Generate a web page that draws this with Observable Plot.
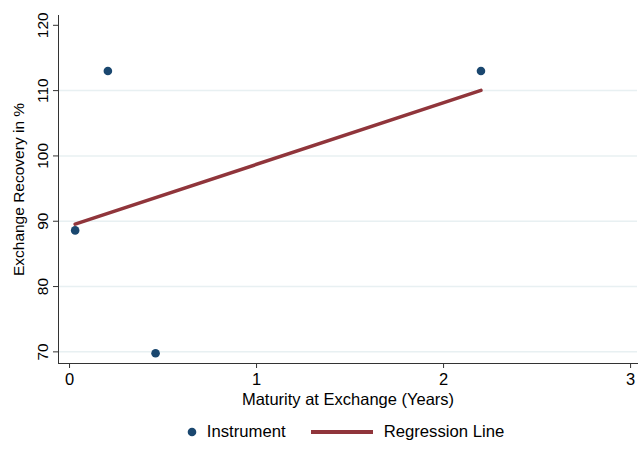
<!DOCTYPE html>
<html><head><meta charset="utf-8">
<script src="https://cdn.jsdelivr.net/npm/d3@7"></script>
<script src="https://cdn.jsdelivr.net/npm/@observablehq/plot@0.6"></script>
<style>
body{margin:0;background:#fff;font-family:"Liberation Sans",Arial,sans-serif}
#legend{display:flex;justify-content:center;align-items:center;margin-top:12px;font-size:16.7px;line-height:20px;color:#000;padding-left:48px}
.item{display:flex;align-items:center}
svg{overflow:visible}
</style>
</head><body><div id="chart"></div>
<div id="legend">
  <div class="item"><svg width="10" height="10" style="margin-right:10px"><circle cx="5" cy="5" r="4.3" fill="#1a476f"/></svg>Instrument</div>
  <div class="item" style="margin-left:25px"><svg width="62" height="6" style="margin-right:11px"><line x1="0" y1="3" x2="62" y2="3" stroke="#90353b" stroke-width="4"/></svg>Regression Line</div>
</div>
<script>
const maturity = [0.03, 0.205, 0.46, 2.2];
const recovery = [88.6, 113.0, 69.8, 113.0];
const xTicks = [0, 1, 2, 3];
const yTicks = [70, 80, 90, 100, 110, 120];
const gridTicks = [70, 80, 90, 100, 110];
const data = maturity.map((x, i) => ({x, y: recovery[i]}));

const plot = Plot.plot({
  width: 643, height: 410,
  marginTop: 15, marginLeft: 58, marginRight: 6, marginBottom: 47,
  x: {domain: [-0.059, 3.037]},
  y: {domain: [68.22, 121.5]},
  style: {fontFamily: '"Liberation Sans", Arial, sans-serif', fontSize: "16.5px", color: "#000", background: "#fff", overflow: "visible"},
  marks: [
    Plot.gridY(gridTicks, {stroke: "#e8f0f2", strokeOpacity: 1, strokeWidth: 1.5}),
    Plot.axisY(yTicks, {tickRotate: -90, tickSize: 5, tickPadding: 6, stroke: "#333", fontSize: 15.5,
      label: "Exchange Recovery in %", labelAnchor: "center", labelArrow: "none", labelOffset: 46}),
    Plot.axisX(xTicks, {tickSize: 5, tickPadding: 5, stroke: "#333", fontSize: 16.5, tickFormat: d => String(d),
      label: "Maturity at Exchange (Years)", labelAnchor: "center", labelArrow: "none", labelOffset: 41}),
    Plot.frame({anchor: "left", stroke: "#333"}),
    Plot.frame({anchor: "bottom", stroke: "#333"}),
    Plot.linearRegressionY(data, {x: "x", y: "y", ci: 0, stroke: "#90353b", strokeWidth: 3.5}),
    Plot.dot(data, {x: "x", y: "y", r: 4.3, fill: "#1a476f"})
  ]
});
document.getElementById("chart").append(plot);
</script>
</body></html>
